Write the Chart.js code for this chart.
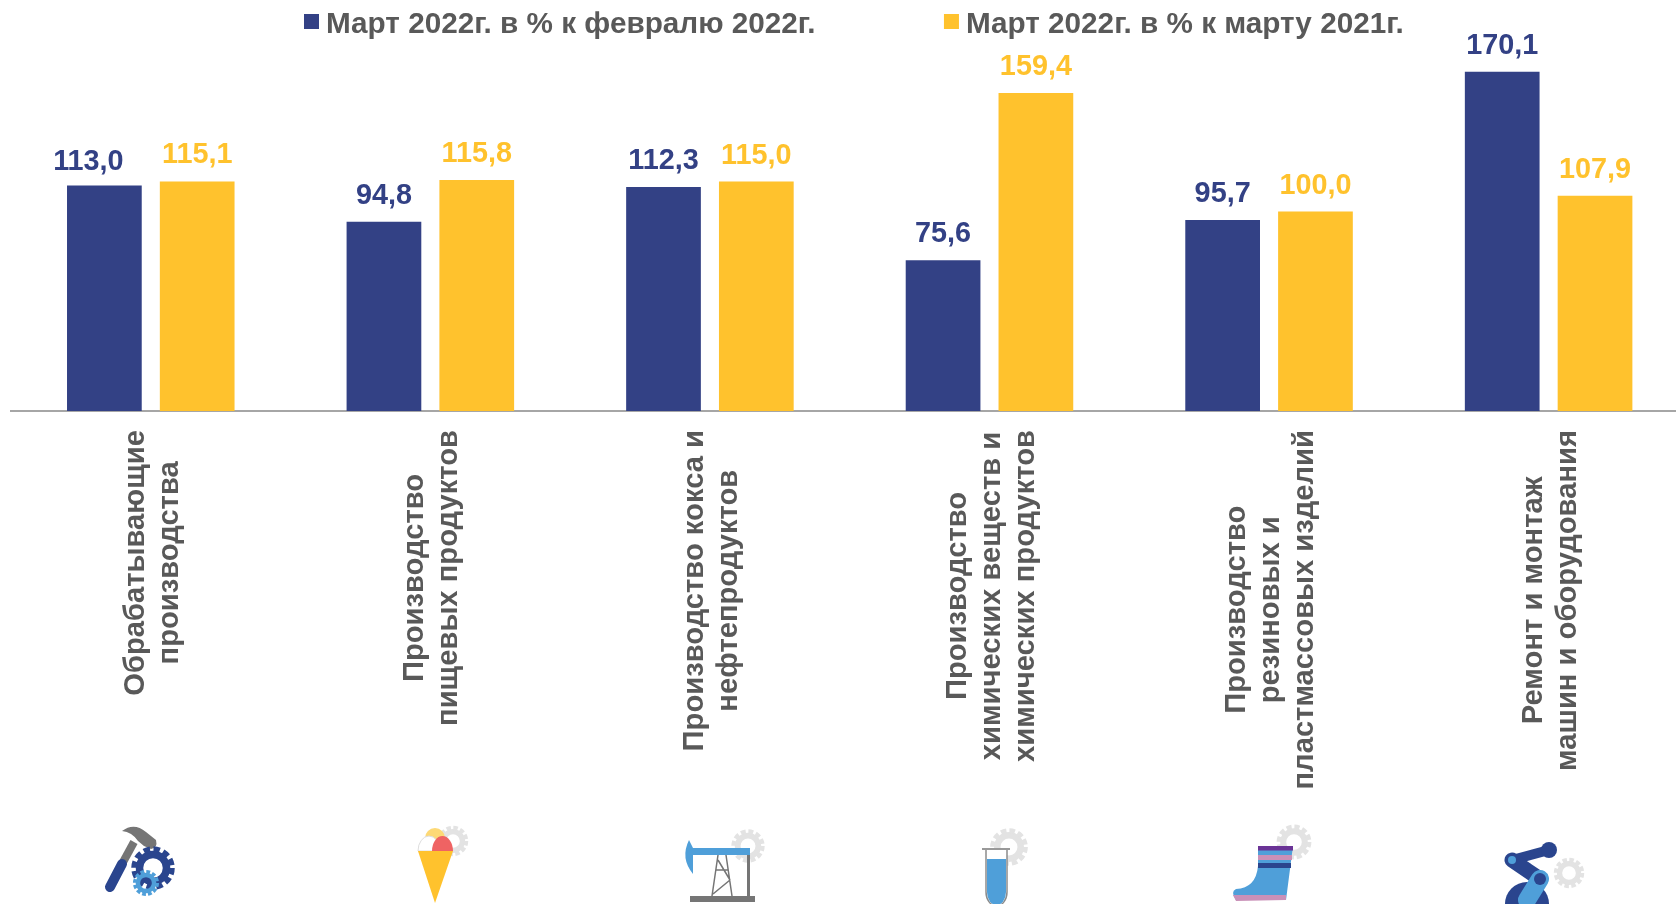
<!DOCTYPE html>
<html lang="ru">
<head>
<meta charset="utf-8">
<title>Индексы производства</title>
<script src="https://cdn.jsdelivr.net/npm/chart.js@4/dist/chart.umd.min.js"></script>
<style>
  html, body { margin: 0; background: #fff; overflow: hidden; width: 1676px; height: 904px; }
  #wrap { position: absolute; left: 0; top: 0; width: 1700px; height: 904px; }
  #icons { position: absolute; left: 0; top: 0; pointer-events: none; }
</style>
</head>
<body>
<div id="wrap"><canvas id="chart" width="1700" height="904"></canvas></div>

<!-- small pictures under the categories -->
<svg id="icons" width="1676" height="904" viewBox="0 0 1676 904">
  <defs>
    <g id="gear">
      <circle r="9" fill="none" stroke="currentColor" stroke-width="5"/>
      <circle r="12.5" fill="none" stroke="currentColor" stroke-width="4" stroke-dasharray="4.2 2.34"/>
    </g>
  </defs>
  <!-- hammer -->
  <line x1="134" y1="842" x2="122" y2="864" stroke="#757575" stroke-width="8"/>
  <path d="M122 831 Q134 822 146 832 L156 840 Q158 848 151 849 L144 846 L138 841 Q132 832 122 831Z" fill="#757575"/>
  <line x1="122" y1="864" x2="110" y2="887" stroke="#2a458e" stroke-width="10" stroke-linecap="round"/>
  <use href="#gear" transform="translate(153 868) scale(1.5)" color="#2a458e"/>
  <use href="#gear" transform="translate(146 883) scale(.9)" color="#4f9fd9"/>
  <!-- ice cream -->
  <use href="#gear" transform="translate(453 841) scale(1.05)" color="#e3e3e3"/>
  <circle cx="435" cy="838" r="10" fill="#fdd976"/>
  <path d="M418 851 A11 15 0 0 1 440 851Z" fill="#fff" stroke="#ddd"/>
  <path d="M432 851 A10.5 15 0 0 1 453 851Z" fill="#ef6363"/>
  <path d="M418 851 L453 851 L435 903Z" fill="#ffc22d"/>
  <!-- oil pump -->
  <use href="#gear" transform="translate(748 846) scale(1.15)" color="#e3e3e3"/>
  <path d="M689 840 Q680 858 693 874 L693 855 L750 855 L750 848 L693 848 Z" fill="#4f9fd9"/>
  <rect x="747" y="855" width="3" height="41" fill="#757575"/>
  <path d="M718 855 L712 896 M726 855 L732 896 M718 860 L730 880 M730 880 L713 894 M716 870 L728 870" stroke="#757575" stroke-width="1.5" fill="none"/>
  <rect x="690" y="896" width="65" height="6" fill="#757575"/>
  <!-- test tube -->
  <use href="#gear" transform="translate(1009 847) scale(1.3)" color="#e3e3e3"/>
  <path d="M986 849 L986 892 A10.5 14 0 0 0 1007 892 L1007 849Z" fill="#fff" stroke="#8c8c8c" stroke-width="1.5"/>
  <path d="M987 859 L1006 859 L1006 892 A9.5 13 0 0 1 987 892Z" fill="#4f9fd9"/>
  <rect x="982" y="848" width="28" height="2" fill="#999"/>
  <!-- boot -->
  <use href="#gear" transform="translate(1294 842) scale(1.2)" color="#e3e3e3"/>
  <path d="M1258 846 L1293 846 L1286 900 L1236 900 Q1230 892 1236 889 Q1256 888 1258 866Z" fill="#4f9fd9"/>
  <rect x="1258" y="846" width="35" height="4.5" fill="#6a3396"/>
  <rect x="1258" y="855" width="34" height="5" fill="#c990b8"/>
  <rect x="1258" y="863" width="33" height="5" fill="#2a458e"/>
  <path d="M1233 895 L1286 895 L1286 900 L1236 901Z" fill="#c990b8"/>
  <!-- robot arm -->
  <use href="#gear" transform="translate(1569 873) scale(1.05)" color="#e3e3e3"/>
  <circle cx="1527" cy="904" r="22" fill="#2a458e"/>
  <line x1="1512" y1="860" x2="1549" y2="850" stroke="#2a458e" stroke-width="10"/>
  <circle cx="1549" cy="850" r="8" fill="#2a458e"/>
  <line x1="1512" y1="860" x2="1540" y2="879" stroke="#2a458e" stroke-width="15" stroke-linecap="round"/>
  <circle cx="1512" cy="860" r="4" fill="#4f9fd9"/>
  <line x1="1540" y1="879" x2="1527" y2="900" stroke="#4f9fd9" stroke-width="18" stroke-linecap="round"/>
  <circle cx="1540" cy="879" r="6" fill="#2a458e"/>
</svg>

<script>
const categories = [
  ["Обрабатывающие", "производства"],
  ["Производство", "пищевых продуктов"],
  ["Производство кокса и", "нефтепродуктов"],
  ["Производство", "химических веществ и", "химических продуктов"],
  ["Производство", "резиновых и", "пластмассовых изделий"],
  ["Ремонт и монтаж", "машин и оборудования"],
];
const seriesNames = ["Март 2022г. в % к февралю 2022г.", "Март 2022г. в % к марту 2021г."];
const toFebruary = [113.0, 94.8, 112.3, 75.6, 95.7, 170.1];
const toLastYear = [115.1, 115.8, 115.0, 159.4, 100.0, 107.9];

const blue = "#334185";
const yellow = "#ffc22d";
const grey = "#595959";
const fontFamily = '"Liberation Sans", Arial, sans-serif';

const formatValue = (value) => value.toFixed(1).replace(".", ",");

// values above the bars, the first one sits to the left of its bar in the original
const valueLabels = {
  id: "valueLabels",
  afterDatasetsDraw(chart) {
    const { ctx } = chart;
    ctx.save();
    ctx.font = `bold 28.8px ${fontFamily}`;
    ctx.textAlign = "center";
    ctx.textBaseline = "alphabetic";
    chart.data.datasets.forEach((dataset, datasetIndex) => {
      ctx.fillStyle = dataset.backgroundColor;
      chart.getDatasetMeta(datasetIndex).data.forEach((bar, index) => {
        const first = datasetIndex === 0 && index === 0;
        ctx.fillText(formatValue(dataset.data[index]), bar.x + (first ? -16 : 0), bar.y - (first ? 16 : 18));
      });
    });
    ctx.restore();
  },
};

// legend with the wide gap of the original, the built-in one ties gap and height together
const topLegend = {
  id: "topLegend",
  afterDraw(chart) {
    const { ctx } = chart;
    ctx.save();
    ctx.font = `bold 29.7px ${fontFamily}`;
    ctx.textBaseline = "alphabetic";
    let x = 304;
    chart.data.datasets.forEach((dataset) => {
      ctx.fillStyle = dataset.backgroundColor;
      ctx.fillRect(x, 14, 15, 15);
      ctx.fillStyle = grey;
      ctx.fillText(dataset.label, x + 22, 33);
      x += 22 + ctx.measureText(dataset.label).width + 128.5;
    });
    ctx.restore();
  },
};

// rotated labels: chart.js right-aligns the lines, the original centres them
const centreTickLines = {
  id: "centreTickLines",
  beforeDraw(chart) {
    const scale = chart.scales.x;
    const { ctx } = chart;
    scale.getLabelItems(chart.chartArea).forEach((item, index) => {
      if (item.centred) return;
      ctx.save();
      ctx.font = item.font.string;
      const longest = Math.max(...item.label.map((line) => ctx.measureText(line).width));
      ctx.restore();
      item.options.textAlign = "center";
      item.options.textBaseline = "middle";
      item.options.translation = [scale.getPixelForTick(index) + 2, 430 + longest / 2];
      item.textOffset = (-(item.label.length - 1) * item.font.lineHeight) / 2;
      item.centred = true;
    });
  },
};

new Chart(document.getElementById("chart"), {
  type: "bar",
  data: {
    labels: categories,
    datasets: [
      { label: seriesNames[0], data: toFebruary, backgroundColor: blue },
      { label: seriesNames[1], data: toLastYear, backgroundColor: yellow },
    ],
  },
  plugins: [valueLabels, topLegend, centreTickLines],
  options: {
    responsive: false,
    animation: false,
    layout: { padding: { left: 11, right: 11.6, top: 12, bottom: 0 } },
    plugins: {
      legend: { display: false },
      title: { display: false },
      tooltip: { enabled: false },
    },
    datasets: { bar: { categoryPercentage: 0.664, barPercentage: 0.805 } },
    scales: {
      x: {
        grid: { display: false },
        border: { color: "#a6a6a6", width: 2 },
        afterFit: (scale) => {
          scale.height = 493;
        },
        ticks: {
          autoSkip: false,
          maxRotation: 90,
          minRotation: 90,
          padding: 20,
          color: grey,
          font: { family: fontFamily, size: 29.2, weight: "bold", lineHeight: 1.164 },
        },
      },
      y: { display: false, min: 0, max: 200 },
    },
  },
});
</script>
</body>
</html>
